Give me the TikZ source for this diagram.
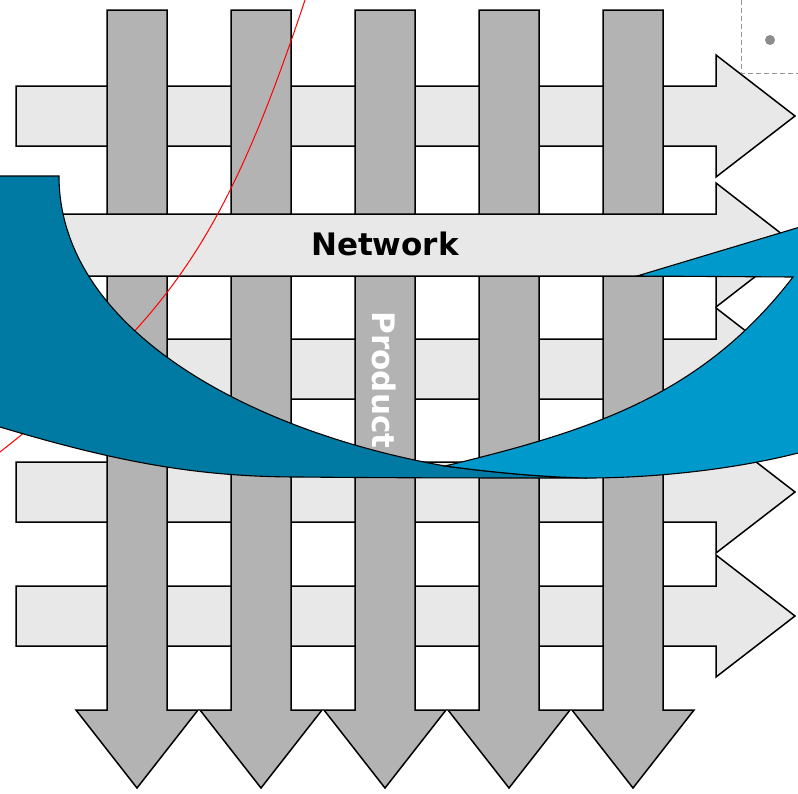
\documentclass[tikz,border=0pt]{standalone}
\usepackage{fontspec}
\newfontfamily\labelfont{DejaVu Sans}
\definecolor{arrowgray}{RGB}{232,232,232}
\definecolor{bargray}{RGB}{179,179,179}
\definecolor{darkteal}{RGB}{0,122,162}
\definecolor{lightblue}{RGB}{0,153,204}
\definecolor{dashgray}{RGB}{150,150,150}
\definecolor{dotgray}{RGB}{140,140,140}
\tikzset{
  harrow/.style={draw=black, line width=1.5pt, fill=arrowgray},
  vbar/.style={draw=black, line width=1.5pt, fill=bargray},
  wave/.style={draw=black, line width=1.1pt},
  lbl/.style={inner sep=0pt, font=\labelfont\bfseries\fontsize{31}{37}\selectfont}
}
\newcommand{\hArrow}[1]{%
  \path[harrow] (16,#1-30) -- (716,#1-30) -- (716,#1-61) -- (795,#1) -- (716,#1+61) -- (716,#1+30) -- (16,#1+30) -- cycle;}
\newcommand{\vBar}[1]{%
  \path[vbar] (#1-30,10) -- (#1+30,10) -- (#1+30,710) -- (#1+61,710) -- (#1,788) -- (#1-61,710) -- (#1-30,710) -- cycle;}
\begin{document}
\begin{tikzpicture}[x=1pt,y=-1pt]
\useasboundingbox (0,0) rectangle (798,793);
\clip (0,0) rectangle (798,793);
% horizontal arrows under the bars
\hArrow{116}
\hArrow{369}
\hArrow{492}
\hArrow{616}
% vertical bars
\vBar{137}
\vBar{261}
\vBar{385}
\vBar{509}
\vBar{633}
% Network arrow on top
\path[harrow] (16,214) -- (716,214) -- (716,183) -- (796,245) -- (716,307) -- (716,276) -- (16,276) -- cycle;
\node[lbl, text=black] (network) at (385,244) {Network};
\node[lbl, text=white, rotate=-90] (product) at (384,380) {Product};
% red curve
\draw[red, line width=1pt] (0,452) .. controls (170,318) and (225,240) .. (305,0);
% dark teal part
\path[wave, fill=darkteal] (-20,176) -- (59,176)
  .. controls (59,326) and (243,430) .. (445,466)
  .. controls (490,472) and (540,477) .. (587,478)
  .. controls (500,478) and (400,478) .. (300,477)
  .. controls (200,477) and (120,463) .. (0,427)
  -- (-20,420) -- cycle;
% light blue part
\path[wave, fill=lightblue] (637,276) -- (820,221) -- (820,449) -- (798,453)
  .. controls (740,468) and (660,478) .. (587,478)
  .. controls (540,477) and (490,472) .. (445,466)
  .. controls (595,430) and (703,394) .. (793,277) -- cycle;
% dashed corner and dot
\draw[dashgray, line width=1pt, dash pattern=on 5pt off 3pt] (741,0) -- (741,73) -- (800,73);
\fill[dotgray] (770,40) circle (5);
\end{tikzpicture}
\end{document}
